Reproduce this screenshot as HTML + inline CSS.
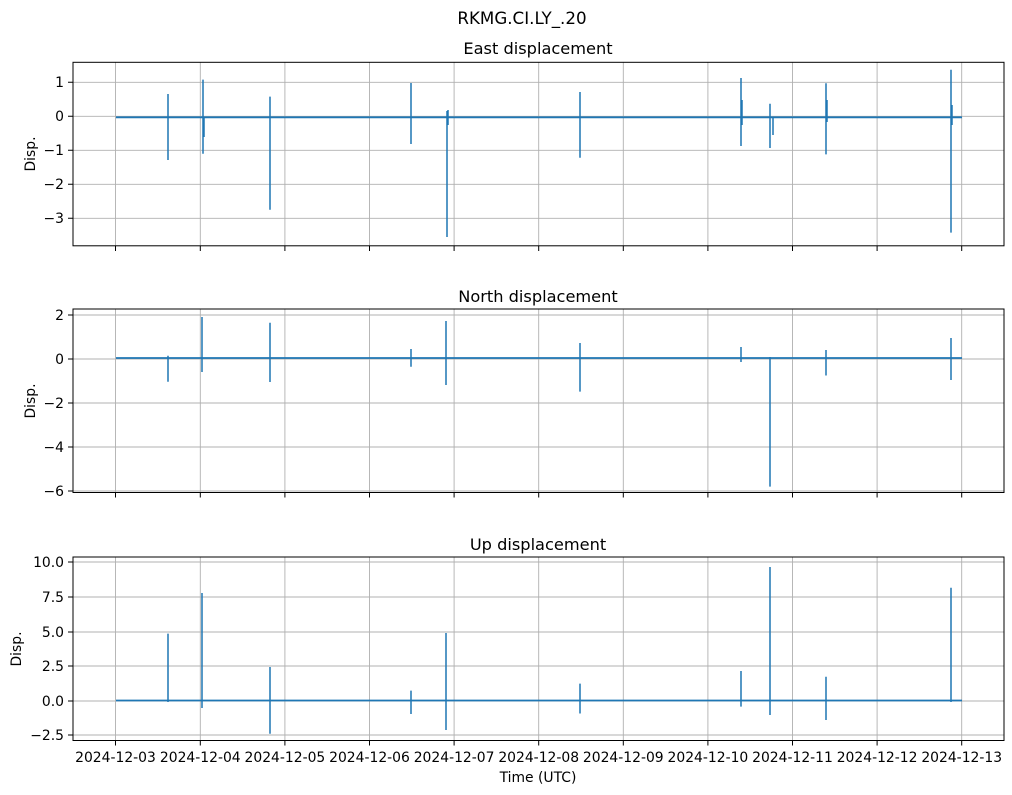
<!DOCTYPE html>
<html><head><meta charset="utf-8"><style>
body{margin:0;background:#fff}
svg{display:block;font-family:"DejaVu Sans","Liberation Sans",sans-serif}
</style></head><body>
<svg width="1012" height="795" viewBox="0 0 1012 795" xmlns="http://www.w3.org/2000/svg">
<rect width="1012" height="795" fill="#fff"/>
<text x="522" y="24" font-size="16.7" text-anchor="middle">RKMG.CI.LY_.20</text>

<g stroke="#b0b0b0" stroke-width="0.9" fill="none">
<path d="M115.5 62V246M200.3 62V246M284.9 62V246M369.5 62V246M454.1 62V246M538.7 62V246M623.3 62V246M707.9 62V246M792.5 62V246M877.1 62V246M961.7 62V246"/>
<path d="M115.5 309V492M200.3 309V492M284.9 309V492M369.5 309V492M454.1 309V492M538.7 309V492M623.3 309V492M707.9 309V492M792.5 309V492M877.1 309V492M961.7 309V492"/>
<path d="M115.5 557V740M200.3 557V740M284.9 557V740M369.5 557V740M454.1 557V740M538.7 557V740M623.3 557V740M707.9 557V740M792.5 557V740M877.1 557V740M961.7 557V740"/>
<path d="M73 82.3H1004M73 116.3H1004M73 150.3H1004M73 184.3H1004M73 218.3H1004"/>
<path d="M73 315H1004M73 359H1004M73 403H1004M73 447H1004M73 491H1004"/>
<path d="M73 562H1004M73 597H1004M73 632H1004M73 666H1004M73 701H1004M73 735H1004"/>
</g>

<g stroke="#1f77b4" stroke-width="1.5" fill="none">
<path d="M116 117.3H962" stroke-width="1.8"/>
<path d="M168 117V94V160V117M203 117V79.6V153.7V117M204 117V137M270 117V96.6V209.8V117M411 117V83V144V117M447 117V111V237V117M448 110V125M580 117V92V157.8V117M741 117V78V146V117M742 100V125M770 117V103.7V148V117M773 117V135M826 117V83.3V154.4V117M827 100V122M951 117V69.7V232.6V117M952 105V125"/>
<path d="M116 358H962" stroke-width="1.8"/>
<path d="M168 358V355.7V381.7V358M202 358V317V372V358M270 358V322.7V382V358M411 358V349V366.7V358M446 358V321V385V358M580 358V343V391.6V358M741 358V347V362V358M770 358V357V486.6V358M826 358V350V375.5V358M951 358V338V380V358"/>
<path d="M116 700.5H962" stroke-width="1.8"/>
<path d="M168 701V633.6V702V701M202 701V593V708V701M270 701V667V733.7V701M411 701V690.6V714V701M446 701V633V730V701M580 701V683.6V713.5V701M741 701V671V706.6V701M770 701V567V715V701M826 701V676.7V720V701M951 701V587.7V702V701"/>
</g>

<g stroke="#000" stroke-width="1" fill="none">
<rect x="73" y="62.3" width="931" height="183.5"/>
<rect x="73" y="309" width="931" height="183.5"/>
<rect x="73" y="557" width="931" height="183.5"/>
<path d="M115.5 246v5M200.3 246v5M284.9 246v5M369.5 246v5M454.1 246v5M538.7 246v5M623.3 246v5M707.9 246v5M792.5 246v5M877.1 246v5M961.7 246v5"/>
<path d="M115.5 492.5v5M200.3 492.5v5M284.9 492.5v5M369.5 492.5v5M454.1 492.5v5M538.7 492.5v5M623.3 492.5v5M707.9 492.5v5M792.5 492.5v5M877.1 492.5v5M961.7 492.5v5"/>
<path d="M115.5 740.5v5M200.3 740.5v5M284.9 740.5v5M369.5 740.5v5M454.1 740.5v5M538.7 740.5v5M623.3 740.5v5M707.9 740.5v5M792.5 740.5v5M877.1 740.5v5M961.7 740.5v5"/>
<path d="M73 82.3h-5M73 116.3h-5M73 150.3h-5M73 184.3h-5M73 218.3h-5"/>
<path d="M73 315h-5M73 359h-5M73 403h-5M73 447h-5M73 491h-5"/>
<path d="M73 562h-5M73 597h-5M73 632h-5M73 666h-5M73 701h-5M73 735h-5"/>
</g>

<g font-size="16.2" text-anchor="middle">
<text x="538" y="54">East displacement</text>
<text x="538" y="302">North displacement</text>
<text x="538" y="550">Up displacement</text>
</g>
<g font-size="13.9" text-anchor="middle">
<text x="538" y="782">Time (UTC)</text>
<text transform="translate(35 154) rotate(-90)">Disp.</text>
<text transform="translate(35 401) rotate(-90)">Disp.</text>
<text transform="translate(21 649) rotate(-90)">Disp.</text>
</g>
<g font-size="13.9" text-anchor="end">
<text x="64" y="87">1</text><text x="64" y="121">0</text><text x="64" y="155">−1</text><text x="64" y="189">−2</text><text x="64" y="223">−3</text>
<text x="64" y="320">2</text><text x="64" y="364">0</text><text x="64" y="408">−2</text><text x="64" y="452">−4</text><text x="64" y="496">−6</text>
<text x="64" y="567">10.0</text><text x="64" y="602">7.5</text><text x="64" y="637">5.0</text><text x="64" y="671">2.5</text><text x="64" y="706">0.0</text><text x="64" y="740">−2.5</text>
</g>
<g font-size="13.9" text-anchor="middle">
<text x="115.5" y="762">2024-12-03</text><text x="200.3" y="762">2024-12-04</text><text x="284.9" y="762">2024-12-05</text><text x="369.5" y="762">2024-12-06</text><text x="454.1" y="762">2024-12-07</text><text x="538.7" y="762">2024-12-08</text><text x="623.3" y="762">2024-12-09</text><text x="707.9" y="762">2024-12-10</text><text x="792.5" y="762">2024-12-11</text><text x="877.1" y="762">2024-12-12</text><text x="961.7" y="762">2024-12-13</text>
</g>
</svg>
</body></html>
